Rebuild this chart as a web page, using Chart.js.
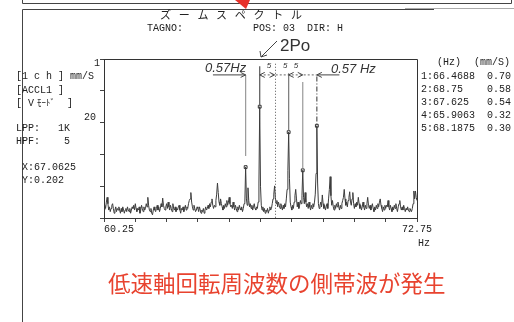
<!DOCTYPE html>
<html><head><meta charset="utf-8">
<script src="https://cdn.jsdelivr.net/npm/chart.js@4"></script>
<style>html,body{margin:0;padding:0;background:#fff;}canvas{display:block}</style>
</head><body>
<canvas id="c" width="514" height="322"></canvas>
<script>
// ---- data ----
const freqStart = 60.25;          // Hz
const freqStep = 0.03125;         // Hz per line (400 lines)
const amplitude = [
0.05,0.08,0.06,0.10,0.13,0.09,0.05,0.07,0.04,0.06,0.08,0.09,0.06,0.03,0.05,0.07,0.04,0.06,0.05,0.07,
0.05,0.03,0.06,0.04,0.07,0.05,0.03,0.05,0.06,0.04,0.07,0.05,0.04,0.06,0.03,0.05,0.07,0.06,0.08,0.05,
0.09,0.06,0.04,0.06,0.05,0.07,0.03,0.05,0.08,0.06,0.04,0.07,0.05,0.06,0.09,0.07,0.13,0.08,0.05,0.04,
0.06,0.03,0.02,0.05,0.07,0.05,0.04,0.06,0.08,0.05,0.07,0.04,0.06,0.09,0.07,0.125,0.08,0.06,0.05,0.07,
0.09,0.06,0.10,0.07,0.05,0.08,0.06,0.04,0.09,0.06,0.05,0.07,0.04,0.06,0.05,0.07,0.08,0.05,0.03,0.06,
0.05,0.07,0.04,0.06,0.08,0.05,0.07,0.06,0.09,0.11,0.12,0.16,0.10,0.07,0.05,0.08,0.06,0.04,0.05,0.07,
0.06,0.04,0.07,0.05,0.03,0.05,0.04,0.06,0.03,0.05,0.07,0.05,0.06,0.08,0.06,0.09,0.07,0.10,0.12,0.08,
0.06,0.08,0.07,0.11,0.15,0.22,0.16,0.10,0.08,0.12,0.09,0.07,0.05,0.08,0.06,0.09,0.07,0.11,0.08,0.10,
0.13,0.09,0.07,0.08,0.06,0.10,0.07,0.05,0.08,0.06,0.04,0.07,0.05,0.08,0.06,0.05,0.07,0.04,0.06,0.09,
0.10,0.32,0.12,0.08,0.19,0.11,0.07,0.09,0.06,0.08,0.05,0.07,0.09,0.06,0.05,0.07,0.06,0.10,0.22,0.70,
0.20,0.08,0.05,0.07,0.04,0.06,0.03,0.05,0.04,0.06,0.03,0.05,0.07,0.05,0.06,0.09,0.12,0.15,0.202,0.13,
0.09,0.11,0.07,0.10,0.08,0.06,0.09,0.07,0.05,0.08,0.06,0.09,0.07,0.12,0.18,0.30,0.54,0.25,0.10,0.07,
0.05,0.08,0.06,0.10,0.14,0.18,0.12,0.07,0.10,0.06,0.08,0.11,0.09,0.14,0.30,0.13,0.09,0.16,0.10,0.07,
0.09,0.06,0.10,0.07,0.05,0.08,0.06,0.09,0.07,0.10,0.15,0.28,0.58,0.22,0.09,0.06,0.08,0.10,0.07,0.145,
0.09,0.06,0.08,0.05,0.07,0.09,0.06,0.12,0.18,0.26,0.14,0.08,0.11,0.07,0.05,0.08,0.06,0.09,0.07,0.10,
0.07,0.05,0.08,0.06,0.09,0.11,0.13,0.18,0.12,0.08,0.10,0.07,0.11,0.13,0.165,0.10,0.08,0.12,0.16,0.09,
0.06,0.09,0.07,0.10,0.08,0.13,0.09,0.06,0.08,0.05,0.07,0.10,0.07,0.05,0.08,0.06,0.09,0.13,0.08,0.06,
0.08,0.05,0.07,0.09,0.06,0.04,0.07,0.05,0.08,0.06,0.09,0.07,0.10,0.12,0.08,0.06,0.04,0.07,0.05,0.08,
0.06,0.08,0.07,0.11,0.07,0.05,0.08,0.06,0.04,0.07,0.05,0.08,0.06,0.09,0.06,0.04,0.07,0.09,0.11,0.07,
0.05,0.07,0.05,0.08,0.06,0.04,0.06,0.05,0.07,0.05,0.04,0.06,0.05,0.04,0.06,0.09,0.17,0.12,0.17,0.13,
0.11
];
const peakRank = ['1', '2', '3', '4', '5'];
const peakFreqLabels = ['66.4688', '68.75', '67.625', '65.9063', '68.1875'];
const peakAmps = [0.70, 0.58, 0.54, 0.32, 0.30];
const xTickValues = [60.25, 61.5, 62.75, 64, 65.25, 66.5, 67.75, 69, 70.25, 71.5, 72.75];
const yTickValues = [0, 0.2, 0.4, 0.6, 0.8, 1];
const xLabelLeft = '60.25', xLabelRight = '72.75', xUnit = 'Hz';
const cursorFreq = 67.0625, cursorAmp = 0.202;
// hand-written annotation strokes (freq, top value, bottom value)
const penFreqs = [65.90625, 66.46875, 67.625, 68.1875, 68.75];
const penTops = [0.90, 0.955, 0.91, 0.855, 0.89];
const penBottoms = [0.39, 0.71, 0.55, 0.315, 0.585];
const dimLineAmp = 0.90, dimFrom = 64.6, dimTo = 69.65;

// ---- build ----
const lineData = amplitude.map((v, i) => ({ x: freqStart + i * freqStep, y: v }));
const markerData = peakFreqLabels.map((f, i) => ({ x: parseFloat(f), y: peakAmps[i] }));
const MONO = '10px "Liberation Mono","DejaVu Sans Mono",monospace';

const decor = {
  id: 'decor',
  afterDraw(chart) {
    const ctx = chart.ctx, xs = chart.scales.x, ys = chart.scales.y, a = chart.chartArea;
    const X = v => xs.getPixelForValue(v), Y = v => ys.getPixelForValue(v);
    ctx.save();
    // plot frame top + right
    ctx.strokeStyle = '#333'; ctx.lineWidth = 1;
    ctx.beginPath();
    ctx.moveTo(Math.round(a.left) - 0.5, Math.round(a.top) + 0.5);
    ctx.lineTo(Math.round(a.right) + 0.5, Math.round(a.top) + 0.5);
    ctx.lineTo(Math.round(a.right) + 0.5, Math.round(a.bottom));
    ctx.stroke();

    // page frame lines
    ctx.strokeStyle = '#444';
    ctx.beginPath();
    ctx.moveTo(22.5, 0); ctx.lineTo(22.5, 3.5); ctx.lineTo(511.5, 3.5); ctx.lineTo(511.5, 0);
    ctx.stroke();
    ctx.beginPath(); ctx.moveTo(22.5, 322); ctx.lineTo(22.5, 9.5); ctx.lineTo(434, 9.5); ctx.stroke();
    ctx.strokeStyle = '#aaa';
    ctx.beginPath(); ctx.moveTo(405, 8.5); ctx.lineTo(514, 8.5); ctx.stroke();
    // red arrow tip
    ctx.fillStyle = '#e8312a';
    ctx.beginPath(); ctx.moveTo(235, 0); ctx.lineTo(250, 0); ctx.lineTo(246, 9); ctx.closePath(); ctx.fill();

    // header texts
    ctx.fillStyle = '#222'; ctx.textBaseline = 'middle'; ctx.textAlign = 'left';
    ctx.font = '11px "Noto Sans CJK JP"';
    const title = ['ズ', 'ー', 'ム', 'ス', 'ペ', 'ク', 'ト', 'ル'];
    title.forEach((ch, i) => ctx.fillText(ch, 160 + i * 18.7, 15));
    ctx.font = MONO;
    ctx.fillText('TAGNO:', 147, 28);
    ctx.fillText('POS: 03  DIR: H', 253, 28);

    // left panel
    ctx.textAlign = 'right';
    ctx.fillText('1', 100, 63);
    ctx.fillText('20', 96, 117);
    ctx.textAlign = 'left';
    ctx.fillText('[1 c h ] mm/S', 16, 76);
    ctx.fillText('[ACCL1 ]', 16, 90);
    ctx.fillText('[ V', 16, 103);
    ctx.font = '9px "Noto Sans CJK JP"';
    ctx.fillText('ﾓｰﾄﾞ', 37, 103);
    ctx.font = MONO;
    ctx.fillText(']', 67, 103);
    ctx.fillText('LPP:   1K', 16, 128);
    ctx.fillText('HPF:    5', 16, 141);
    ctx.fillText('X:' + cursorFreq, 22, 167);
    ctx.fillText('Y:' + cursorAmp, 22, 180);

    // right peak table
    ctx.fillText('(Hz)', 437, 62);
    ctx.fillText('(mm/S)', 474, 62);
    peakFreqLabels.forEach((f, i) => {
      ctx.textAlign = 'left';
      ctx.fillText(peakRank[i] + ':' + f, 421, 76 + i * 13);
      ctx.textAlign = 'right';
      ctx.fillText(peakAmps[i].toFixed(2), 511, 76 + i * 13);
    });

    // x labels
    ctx.textAlign = 'left';
    ctx.fillText(xLabelLeft, X(xTickValues[0]), 229);
    ctx.textAlign = 'right';
    ctx.fillText(xLabelRight, X(xTickValues[xTickValues.length - 1]) + 15, 229);
    ctx.fillText(xUnit, 430, 243);

    // cursor dotted line
    ctx.strokeStyle = '#555'; ctx.setLineDash([1, 2]);
    ctx.beginPath(); ctx.moveTo(Math.round(X(cursorFreq)) + 0.5, Y(0.97)); ctx.lineTo(Math.round(X(cursorFreq)) + 0.5, a.bottom); ctx.stroke();
    ctx.setLineDash([]);

    // pen strokes
    const penCols = ['#999', '#555', '#777', '#999', '#555'];
    penFreqs.forEach((f, i) => {
      ctx.strokeStyle = penCols[i]; ctx.lineWidth = 1.2;
      if (i === 4) ctx.setLineDash([5, 2, 1, 2]);
      ctx.beginPath(); ctx.moveTo(X(f), Y(penTops[i])); ctx.lineTo(X(f), Y(penBottoms[i])); ctx.stroke();
      ctx.setLineDash([]);
    });
    // dimension line with arrows
    const dy = Y(dimLineAmp);
    ctx.strokeStyle = '#444'; ctx.lineWidth = 1;
    ctx.beginPath(); ctx.moveTo(X(dimFrom), dy); ctx.lineTo(X(penFreqs[0]), dy); ctx.stroke();
    ctx.beginPath(); ctx.moveTo(X(penFreqs[4]), dy); ctx.lineTo(X(dimTo), dy); ctx.stroke();
    ctx.strokeStyle = '#666'; ctx.setLineDash([2, 2]);
    ctx.beginPath(); ctx.moveTo(X(penFreqs[1]), dy); ctx.lineTo(X(penFreqs[4]), dy); ctx.stroke();
    ctx.setLineDash([]); ctx.strokeStyle = '#444';
    const arrow = (x, dir) => {
      ctx.beginPath(); ctx.moveTo(x - dir * 5, dy - 2.5); ctx.lineTo(x, dy); ctx.lineTo(x - dir * 5, dy + 2.5); ctx.stroke();
    };
    arrow(X(penFreqs[0]), 1);
    arrow(X(penFreqs[4]), -1);
    arrow(X(penFreqs[1]), -1); arrow(X(cursorFreq), 1);
    arrow(X(penFreqs[2]), -1); arrow(X(penFreqs[3]), 1);
    // handwriting
    ctx.fillStyle = '#333'; ctx.textAlign = 'left';
    ctx.font = 'italic 13px "Liberation Sans"';
    ctx.fillText('0.57Hz', 205, 68);
    ctx.fillText('0.57 Hz', 331, 69);
    ctx.font = 'italic 8px "Liberation Sans"';
    ctx.fillText('5', X(66.75), 66);
    ctx.fillText('5', X(67.4), 66);
    ctx.fillText('5', X(67.83), 66);
    ctx.font = '17px "Liberation Sans"';
    ctx.fillText('2Po', 280, 46);
    ctx.beginPath(); ctx.moveTo(277, 41); ctx.lineTo(261, 57); ctx.stroke();
    ctx.beginPath(); ctx.moveTo(260, 51); ctx.lineTo(261, 57); ctx.lineTo(267, 55); ctx.stroke();

    // red caption
    ctx.fillStyle = '#e8432f';
    ctx.font = '22.5px "Noto Sans CJK JP"';
    ctx.fillText('低速軸回転周波数の側帯波が発生', 108, 283);
    ctx.restore();
  }
};

new Chart(document.getElementById('c'), {
  type: 'line',
  data: {
    datasets: [
      { data: lineData, borderColor: '#3c3c3c', borderWidth: 1, pointRadius: 0, tension: 0, fill: false },
      { data: markerData, showLine: false, pointStyle: 'rect', pointRadius: 2,
        pointBackgroundColor: '#fff', pointBorderColor: '#333', pointBorderWidth: 1 }
    ]
  },
  options: {
    responsive: false, animation: false, devicePixelRatio: 1,
    layout: { padding: { left: 100, top: 59, right: 97, bottom: 100 } },
    plugins: { legend: { display: false }, tooltip: { enabled: false } },
    scales: {
      x: {
        type: 'linear', min: xTickValues[0], max: xTickValues[xTickValues.length - 1],
        afterBuildTicks: s => { s.ticks = xTickValues.map(v => ({ value: v })); },
        afterFit: s => { s.height = 4; },
        ticks: { display: false },
        grid: { drawOnChartArea: false, drawTicks: true, tickLength: 4, color: '#444' },
        border: { display: true, color: '#333', width: 1 }
      },
      y: {
        min: yTickValues[0], max: yTickValues[yTickValues.length - 1],
        afterBuildTicks: s => { s.ticks = yTickValues.map(v => ({ value: v })); },
        afterFit: s => { s.width = 4; },
        ticks: { display: false },
        grid: { drawOnChartArea: false, drawTicks: true, tickLength: 4, color: '#444' },
        border: { display: true, color: '#333', width: 1 }
      }
    }
  },
  plugins: [decor]
});
</script>
</body></html>
